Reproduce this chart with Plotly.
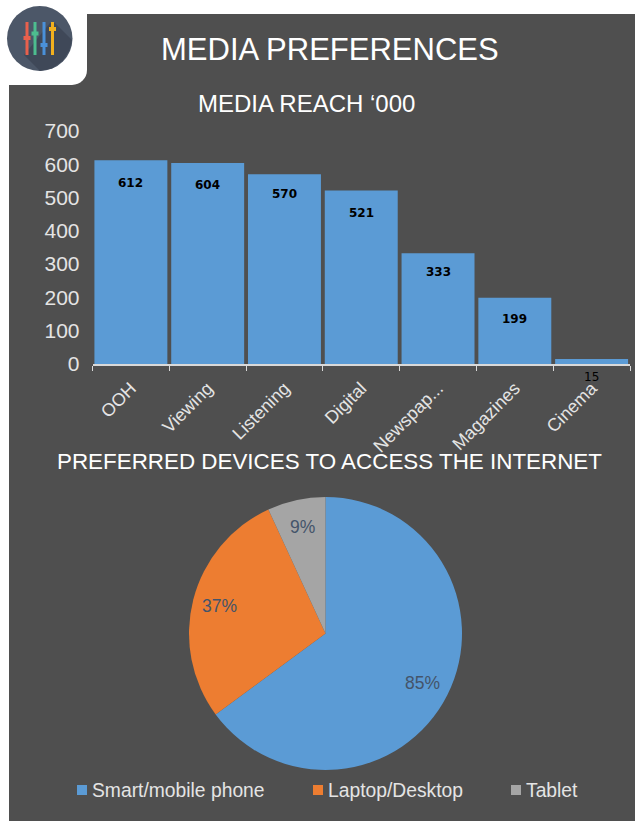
import math
import plotly.graph_objects as go

# Media reach, thousands
media_channels = ["OOH", "Viewing", "Listening", "Digital", "Newspap...", "Magazines", "Cinema"]
media_reach = [612, 604, 570, 521, 333, 199, 15]
reach_ticks = [0, 100, 200, 300, 400, 500, 600, 700]

# Preferred devices, percent of respondents (multiple answers allowed)
devices = ["Smart/mobile phone", "Laptop/Desktop", "Tablet"]
device_share = [85, 37, 9]
device_colors = ["#5B9BD5", "#ED7D31", "#A5A5A5"]

W, H = 635, 821
PANEL = "#4F4F4F"
BLUE = "#5B9BD5"
TEXT = "#FFFFFF"
AXIS_TEXT = "#E4E4E4"
SLICE_TEXT = "#44546A"
FONT = "Liberation Sans"


def px(x):
    return x / W


def py(y):
    return 1 - y / H


def rect(x0, y0, x1, y1, color, kind="rect", layer="below"):
    return dict(type=kind, xref="paper", yref="paper", x0=px(x0), x1=px(x1), y0=py(y0), y1=py(y1),
                fillcolor=color, line=dict(width=0), layer=layer)


def poly(points, color):
    path = "M" + " L".join(f"{px(x):.4f},{py(y):.4f}" for x, y in points) + " Z"
    return dict(type="path", xref="paper", yref="paper", path=path, fillcolor=color,
                line=dict(width=0), layer="below")


shapes = [
    rect(9, 14, W, H, PANEL),
    # notch behind the logo, with its rounded inner corner
    rect(0, 0, 87, 70, "#FFFFFF"),
    rect(0, 0, 72, 85, "#FFFFFF"),
    rect(57, 55, 87, 85, "#FFFFFF", kind="circle"),
    # logo badge and the long shadow falling to its lower right
    rect(7, 6, 72.5, 71, "#4C5768", kind="circle"),
    poly([(24, 55), (40, 71), (52, 68.5), (63, 60.5), (69.5, 50), (72, 40), (55, 23), (50, 23)], "#3F4858"),
]

# slider glyphs inside the badge: x, knob y, colour
for sx, knob, col in [(27, 38, "#E8604C"), (35, 33.5, "#4DBD8F"), (44, 45, "#4A90D9"), (52.5, 29, "#F2B01E")]:
    shapes.append(rect(sx - 1.5, 22, sx + 1.5, 55, col, layer="above"))
    shapes.append(rect(sx - 3.5, knob - 2, sx + 3.5, knob + 2, col, layer="above"))

fig = go.Figure()

fig.add_trace(go.Bar(
    x=media_channels, y=media_reach, marker=dict(color=BLUE, line=dict(width=0)),
    showlegend=False, hoverinfo="x+y", width=0.95,
))

# pie geometry, in page pixels
PIE_LEFT, PIE_RIGHT, PIE_TOP, PIE_BOTTOM = 189, 462, 497, 770
pie_cx = (PIE_LEFT + PIE_RIGHT) / 2
pie_cy = (PIE_TOP + PIE_BOTTOM) / 2
pie_r = (PIE_RIGHT - PIE_LEFT) / 2

fig.add_trace(go.Pie(
    labels=devices, values=device_share, sort=False, direction="clockwise", rotation=0,
    marker=dict(colors=device_colors, line=dict(width=0)), textinfo="none",
    domain=dict(x=[px(PIE_LEFT), px(PIE_RIGHT)], y=[py(PIE_BOTTOM), py(PIE_TOP)]),
    showlegend=False,
))

annotations = [
    dict(text="MEDIA PREFERENCES", x=px(330), y=py(49), font=dict(size=31, color=TEXT, family=FONT)),
    dict(text="MEDIA REACH ‘000", x=px(306.5), y=py(103), font=dict(size=24, color=TEXT, family=FONT)),
    dict(text="PREFERRED DEVICES TO ACCESS THE INTERNET", x=px(329), y=py(461),
         font=dict(size=22.4, color=TEXT, family=FONT)),
]

# slice captions sit out towards the rim, on each slice's mid angle
total = sum(device_share)
swept = 0
for share in device_share:
    mid = math.radians((swept + share / 2) / total * 360)
    swept += share
    annotations.append(dict(
        text=f"{share}%",
        x=px(pie_cx + 0.8 * pie_r * math.sin(mid)),
        y=py(pie_cy - 0.8 * pie_r * math.cos(mid)),
        font=dict(size=17.5, color=SLICE_TEXT, family=FONT),
    ))

# hand-set legend row so the swatches hug their labels
LEGEND_Y = 790
for name, color, x0 in zip(devices, device_colors, [77, 313, 511]):
    shapes.append(rect(x0, LEGEND_Y - 5, x0 + 10, LEGEND_Y + 5, color, layer="above"))
    annotations.append(dict(
        text=name, x=px(x0 + 13), y=py(LEGEND_Y), xanchor="left",
        font=dict(size=19.3, color=AXIS_TEXT, family=FONT),
    ))

for a in annotations:
    a.update(xref="paper", yref="paper", showarrow=False, yanchor="middle")
    a.setdefault("xanchor", "center")

# value captions sit a little below the top of each bar
label_drop = [23, 22, 20, 22, 19, 21, 18]
for name, val, drop in zip(media_channels, media_reach, label_drop):
    annotations.append(dict(
        x=name, y=val, xref="x", yref="y", text=str(val), showarrow=False, yshift=-drop,
        yanchor="middle",
        font=dict(size=12, color="#000000", family="DejaVu Sans", weight="bold" if val > 100 else "normal"),
    ))

fig.update_layout(
    width=W, height=H, margin=dict(l=0, r=0, t=0, b=0, autoexpand=False), autosize=False,
    paper_bgcolor="#FFFFFF", plot_bgcolor="rgba(0,0,0,0)",
    shapes=shapes, annotations=annotations, bargap=0.05, showlegend=False,
    xaxis=dict(
        domain=[px(92.5), px(630)], anchor="y", type="category", tickangle=-45, tickson="boundaries",
        ticks="outside", ticklen=5, tickwidth=1, tickcolor="#D9D9D9", showline=True, linecolor="#D9D9D9",
        linewidth=1.5, showgrid=False, tickfont=dict(size=18, color=AXIS_TEXT, family=FONT),
        range=[-0.5, 6.5], ticklabelstandoff=5,
    ),
    yaxis=dict(
        domain=[py(364), py(131)], range=[0, 700], tickvals=reach_ticks, showgrid=False, zeroline=False,
        showline=False, ticks="", tickfont=dict(size=21, color=AXIS_TEXT, family=FONT),
        ticklabelstandoff=12,
    ),
)

fig.write_html("out.html")
